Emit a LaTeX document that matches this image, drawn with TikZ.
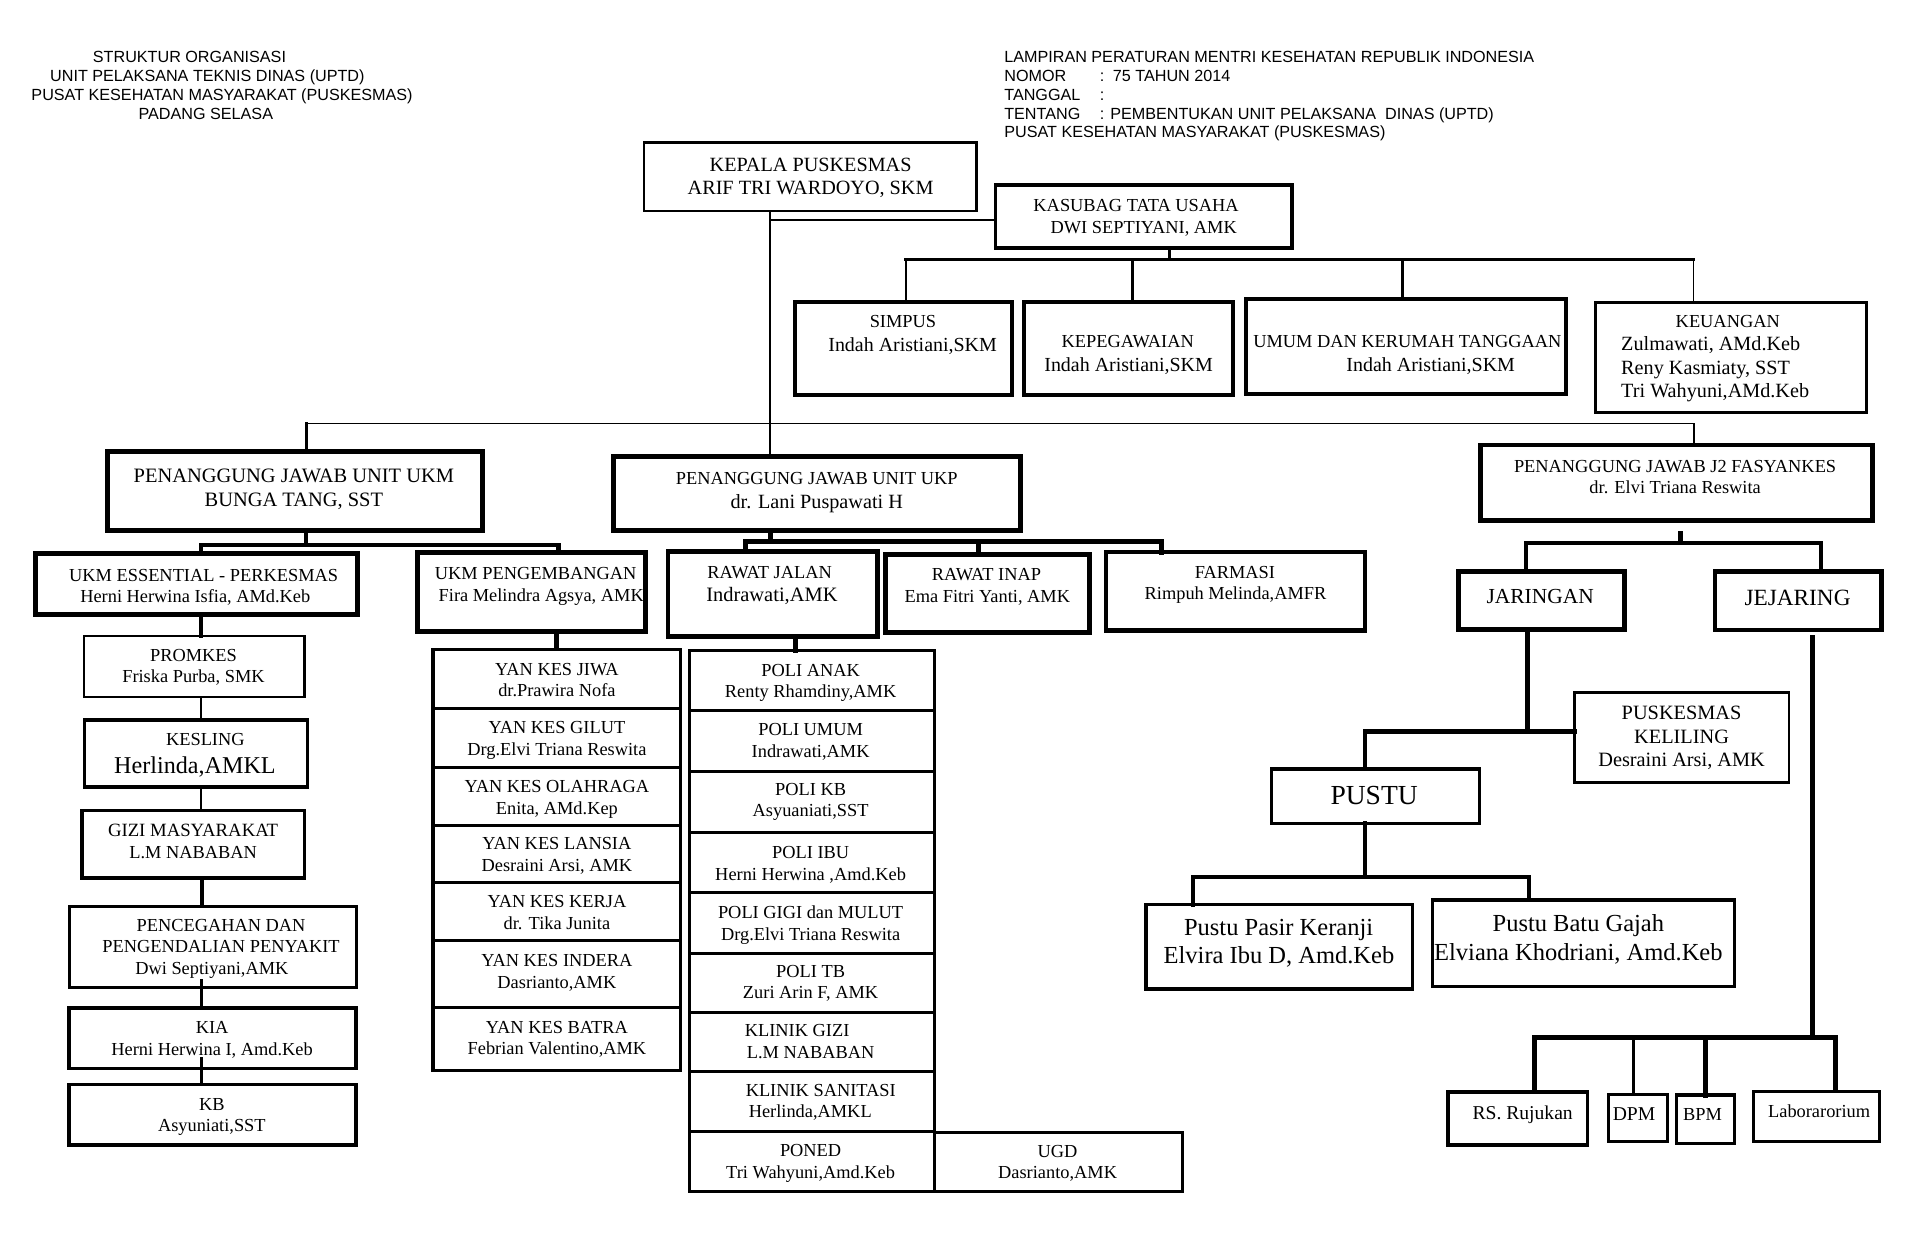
\documentclass[tikz,border=0pt]{standalone}
\usepackage{fontspec}
\setmainfont{Liberation Serif}
\newfontfamily\hdf{Liberation Sans}
\usetikzlibrary{calc}
\newcommand\BX[6]{\node[draw, line width=#6pt, inner sep=0pt, outer sep=0pt, anchor=north west, minimum width={(#4-#2)*1pt}, minimum height={(#5-#3)*1pt}] (#1) at (#2,#3) {};}
\newcommand\TX[5]{\node[anchor=base, inner sep=0pt, font=\fontsize{#4pt}{#4pt}\selectfont] (#1) at (#2,{#3+0.33*#4}) {#5};}
\newcommand\TXL[5]{\node[anchor=base west, inner sep=0pt, font=\fontsize{#4pt}{#4pt}\selectfont] (#1) at (#2,{#3+0.33*#4}) {#5};}
\newcommand\HX[4]{\node[anchor=base west, inner sep=0pt, font=\hdf\fontsize{13.2pt}{13.2pt}\selectfont] (#1) at (#2,{#3+4.7}) {#4};}
\tikzset{lw/.style={line width=#1pt}}
\begin{document}
\begin{tikzpicture}[x=1pt,y=-1pt,line cap=rect,line join=miter]
\fill[white] (0,0) rectangle (1568,1021.6);
\useasboundingbox (0,0) rectangle (1568,1021.6);
% headers
\HX{h1}{75.7}{46.3}{STRUKTUR ORGANISASI}
\HX{h2}{40.8}{62}{UNIT PELAKSANA TEKNIS DINAS (UPTD)}
\HX{h3}{25.5}{77.6}{PUSAT KESEHATAN MASYARAKAT (PUSKESMAS)}
\HX{h4}{113}{92.5}{PADANG SELASA}
\HX{h5}{820}{46.3}{LAMPIRAN PERATURAN MENTRI KESEHATAN REPUBLIK INDONESIA}
\HX{h6}{820}{62}{NOMOR}
\HX{h6b}{898}{62}{:\hspace{7pt}75 TAHUN 2014}
\HX{h7}{820}{77.6}{TANGGAL}
\HX{h7b}{898}{77.6}{:}
\HX{h8}{820}{92.5}{TENTANG}
\HX{h8b}{898}{92.5}{: PEMBENTUKAN UNIT PELAKSANA\ \ DINAS (UPTD)}
\HX{h9}{820}{108}{PUSAT KESEHATAN MASYARAKAT (PUSKESMAS)}
% boxes
\BX{kepala}{526}{116.5}{797.5}{172.3}{2}
\BX{kasubag}{813}{151}{1055}{202.3}{3}
\BX{simpus}{649}{246.5}{826.6}{322.6}{3}
\BX{kepeg}{836.5}{246.4}{1007}{322.6}{3}
\BX{umum}{1017.6}{244.2}{1279}{322}{3}
\BX{keu}{1303}{246.9}{1524}{336.7}{2.5}
\BX{ukm}{87.6}{369}{394}{433}{4}
\BX{ukp}{501}{373}{833.5}{433}{4}
\BX{jtwo}{1208.7}{363.4}{1529}{425}{4}
\BX{ess}{29}{452}{291.7}{502}{4}
\BX{peng}{340.7}{451}{527}{516}{4}
\BX{promkes}{68.6}{519.4}{248.7}{569}{2}
\BX{kesling}{69}{588}{251}{642.5}{3}
\BX{gizi}{66.7}{662}{248.7}{717}{3}
\BX{pencegahan}{56.5}{740}{291}{806.6}{2.5}
\BX{kia}{56.5}{823}{291}{872.5}{3}
\BX{kb}{56.5}{885.6}{291}{935}{3}
\BX{yan1}{353.6}{530.3}{556}{578.5}{2.5}
\BX{yan2}{353.6}{578.5}{556}{626.7}{2.5}
\BX{yan3}{353.6}{626.7}{556}{673.8}{2.5}
\BX{yan4}{353.6}{673.8}{556}{720.9}{2.5}
\BX{yan5}{353.6}{720.9}{556}{768.2}{2.5}
\BX{yan6}{353.6}{768.2}{556}{823}{2.5}
\BX{yan7}{353.6}{823}{556}{874.4}{2.5}
\BX{rj}{545.5}{450.5}{716.8}{520}{4}
\BX{ri}{723.4}{452.7}{890}{516.7}{4}
\BX{farmasi}{903}{451}{1115}{515}{3.5}
\BX{poli1}{563}{531.4}{763.5}{580.4}{2.5}
\BX{poli2}{563}{580.4}{763.5}{629.7}{2.5}
\BX{poli3}{563}{629.7}{763.5}{680}{2.5}
\BX{poli4}{563}{680}{763.5}{728.8}{2.5}
\BX{poli5}{563}{728.8}{763.5}{778.6}{2.5}
\BX{poli6}{563}{778.6}{763.5}{826.8}{2.5}
\BX{poli7}{563}{826.8}{763.5}{874.7}{2.5}
\BX{poli8}{563}{874.7}{763.5}{924.3}{2.5}
\BX{poli9}{563}{924.3}{763.5}{973.2}{2.5}
\BX{ugd}{763.5}{924.8}{965.8}{973.2}{2.5}
\BX{jaringan}{1190.8}{467}{1326.5}{514}{4}
\BX{jejaring}{1400.6}{467}{1536.3}{514.5}{4}
\BX{pusk}{1286}{565.7}{1461}{639.2}{2.2}
\BX{pustu}{1038}{628}{1208.5}{672.4}{2.5}
\BX{pasir}{936}{738.6}{1153.4}{807.4}{3}
\BX{batu}{1169.6}{735}{1416.3}{805.8}{2.5}
\BX{rs}{1182.4}{891.6}{1296.4}{935}{3}
\BX{dpm}{1313.5}{893.5}{1361.8}{932.4}{2.5}
\BX{bpm}{1369}{894.3}{1416.5}{933.8}{3}
\BX{lab}{1432.3}{891}{1534.8}{932.4}{2.5}
% texts
\TX{t1}{662}{134.3}{16.5}{KEPALA PUSKESMAS}
\TX{t2}{662}{153.4}{16.5}{ARIF TRI WARDOYO, SKM}
\TX{t3}{927.8}{167.8}{15}{KASUBAG TATA USAHA}
\TX{t4}{934}{186}{15}{DWI SEPTIYANI, AMK}
\TX{t5}{737.4}{262.7}{15}{SIMPUS}
\TX{t6}{745.3}{281.8}{16.3}{Indah Aristiani,SKM}
\TX{t7}{921}{279}{15}{KEPEGAWAIAN}
\TX{t8}{921.7}{298}{16.3}{Indah Aristiani,SKM}
\TX{t9}{1149.4}{279}{15}{UMUM DAN KERUMAH TANGGAAN}
\TX{t10}{1168.4}{298}{16.3}{Indah Aristiani,SKM}
\TX{t11}{1411}{262.7}{15}{KEUANGAN}
\TXL{t12}{1323.8}{281.2}{16.5}{Zulmawati, AMd.Keb}
\TXL{t13}{1323.8}{300.3}{16.5}{Reny Kasmiaty, SST}
\TXL{t14}{1323.8}{319.1}{16.5}{Tri Wahyuni,AMd.Keb}
\TX{t15}{240}{388.6}{16.7}{PENANGGUNG JAWAB UNIT UKM}
\TX{t16}{240}{408.3}{16.7}{BUNGA TANG, SST}
\TX{t17}{667}{390.5}{15}{PENANGGUNG JAWAB UNIT UKP}
\TX{t18}{667}{410}{16.5}{dr. Lani Puspawati H}
\TX{t19}{1368}{381}{15}{PENANGGUNG JAWAB J2 FASYANKES}
\TX{t20}{1368}{398}{15}{dr. Elvi Triana Reswita}
\TX{t21}{166.3}{469.6}{15}{UKM ESSENTIAL - PERKESMAS}
\TX{t22}{159.5}{487}{15}{Herni Herwina Isfia, AMd.Keb}
\TX{t23}{437.5}{468}{15}{UKM PENGEMBANGAN}
\TX{t24}{442}{486}{15}{Fira Melindra Agsya, AMK}
\TX{t25}{158}{535.5}{15}{PROMKES}
\TX{t26}{158}{552.6}{15}{Friska Purba, SMK}
\TX{t27}{167.7}{603.6}{15}{KESLING}
\TX{t28}{159.2}{625}{19.7}{Herlinda,AMKL}
\TX{t29}{157.7}{678}{15.3}{GIZI MASYARAKAT}
\TX{t30}{157.7}{696}{15}{L.M NABABAN}
\TX{t31}{180.5}{755.5}{15}{PENCEGAHAN DAN}
\TX{t32}{180.5}{773}{15}{PENGENDALIAN PENYAKIT}
\TX{t33}{173}{790.8}{15}{Dwi Septiyani,AMK}
\TX{t34}{173.2}{839.3}{15}{KIA}
\TX{t35}{173.2}{857}{15}{Herni Herwina I, Amd.Keb}
\TX{t36}{173}{902}{15}{KB}
\TX{t37}{173}{918.8}{15}{Asyuniati,SST}
\TX{t38}{454.8}{546.7}{15}{YAN KES JIWA}
\TX{t39}{454.8}{564}{15}{dr.Prawira Nofa}
\TX{t40}{454.8}{594}{15}{YAN KES GILUT}
\TX{t41}{454.8}{612}{15}{Drg.Elvi Triana Reswita}
\TX{t42}{454.8}{642.5}{15}{YAN KES OLAHRAGA}
\TX{t43}{454.8}{660}{15}{Enita, AMd.Kep}
\TX{t44}{454.8}{689}{15}{YAN KES LANSIA}
\TX{t45}{454.8}{707}{15}{Desraini Arsi, AMK}
\TX{t46}{454.8}{736.4}{15}{YAN KES KERJA}
\TX{t47}{454.8}{754}{15}{dr. Tika Junita}
\TX{t48}{454.8}{784.6}{15}{YAN KES INDERA}
\TX{t49}{454.8}{802.5}{15}{Dasrianto,AMK}
\TX{t50}{454.8}{839.3}{15}{YAN KES BATRA}
\TX{t51}{454.8}{856}{15}{Febrian Valentino,AMK}
\TX{t52}{628.5}{467.7}{15}{RAWAT JALAN}
\TX{t53}{630.4}{486}{16.7}{Indrawati,AMK}
\TX{t54}{805.6}{468.8}{15}{RAWAT INAP}
\TX{t55}{806.3}{486.7}{15}{Ema Fitri Yanti, AMK}
\TX{t56}{1008.5}{467.7}{15}{FARMASI}
\TX{t57}{1009}{485}{15}{Rimpuh Melinda,AMFR}
\TX{t58}{662}{547.7}{15}{POLI ANAK}
\TX{t59}{662}{565}{15}{Renty Rhamdiny,AMK}
\TX{t60}{662}{596}{15}{POLI UMUM}
\TX{t61}{662}{614}{15}{Indrawati,AMK}
\TX{t62}{662}{644.6}{15}{POLI KB}
\TX{t63}{662}{661.5}{15}{Asyuaniati,SST}
\TX{t64}{662}{696.4}{15}{POLI IBU}
\TX{t65}{662}{714}{15}{Herni Herwina ,Amd.Keb}
\TX{t66}{662}{745}{15}{POLI GIGI dan MULUT}
\TX{t67}{662}{763}{15}{Drg.Elvi Triana Reswita}
\TX{t68}{662}{793.6}{15}{POLI TB}
\TX{t69}{662}{810.4}{15}{Zuri Arin F, AMK}
\TX{t70}{651}{841.7}{15}{KLINIK GIZI}
\TX{t71}{662}{859.4}{15}{L.M NABABAN}
\TX{t72}{670.3}{890.7}{15}{KLINIK SANITASI}
\TX{t73}{661.7}{908}{15}{Herlinda,AMKL}
\TX{t74}{662}{939.7}{15}{PONED}
\TX{t75}{662}{957.4}{15}{Tri Wahyuni,Amd.Keb}
\TX{t76}{863.7}{940.5}{15}{UGD}
\TX{t77}{863.7}{957.4}{15}{Dasrianto,AMK}
\TX{t78}{1257.8}{487.3}{17.5}{JARINGAN}
\TX{t79}{1468}{488}{19}{JEJARING}
\TX{t80}{1373.3}{582}{16.6}{PUSKESMAS}
\TX{t81}{1373.3}{601.6}{16.6}{KELILING}
\TX{t82}{1373.3}{620.7}{16.6}{Desraini Arsi, AMK}
\TX{t83}{1122.2}{649.3}{22.5}{PUSTU}
\TX{t84}{1044.2}{757.6}{20}{Pustu Pasir Keranji}
\TX{t85}{1044.5}{780.5}{20}{Elvira Ibu D, Amd.Keb}
\TX{t86}{1289}{754}{20}{Pustu Batu Gajah}
\TX{t87}{1289}{777.8}{20}{Elviana Khodriani, Amd.Keb}
\TX{t88}{1243.5}{909.3}{16}{RS. Rujukan}
\TX{t89}{1334.4}{910}{16}{DPM}
\TX{t90}{1390.4}{910}{15}{BPM}
\TX{t91}{1485.6}{907.9}{15}{Laborarorium}
% connectors
\coordinate (jk) at (629,179.7);
\draw[lw=2] (kepala.south -| jk) -- (ukp.north -| jk);
\draw[lw=1.2] (jk) -- (kasubag.west |- jk);
\coordinate (sb) at (955,212);
\coordinate (sbL) at (740,212);
\coordinate (sbR) at (1383,212);
\draw[lw=2.5] (kasubag.south -| sb) -- (sb);
\draw[lw=3] (sbL) -- (sbR);
\draw[lw=2] (sbL) -- (simpus.north -| sbL);
\coordinate (sbK) at (924.5,214);
\draw[lw=2.5] (sbK) -- (kepeg.north -| sbK);
\coordinate (sbU) at (1145,214);
\draw[lw=2.5] (sbU) -- (umum.north -| sbU);
\draw[lw=1.3] (sbR) -- (keu.north -| sbR);
\coordinate (lL) at (250,346);
\coordinate (lR) at (1383.6,346);
\draw[lw=1.2] (lL) -- (lR);
\draw[lw=2.5] (lL) -- (ukm.north -| lL);
\draw[lw=1.5] (lR) -- (jtwo.north -| lR);
% UKM fork
\coordinate (uf) at (250,445);
\coordinate (ufL) at (164,445);
\coordinate (ufR) at (456,445);
\draw[lw=3.5] (ukm.south -| uf) -- (uf);
\draw[lw=3.5] (ess.north -| ufL) -- (ufL) -- (ufR) -- (peng.north -| ufR);
\coordinate (cL) at (164,0);
\coordinate (cL2) at (164.8,0);
\draw[lw=3] (ess.south -| cL) -- (promkes.north -| cL);
\draw[lw=2] (promkes.south -| cL) -- (kesling.north -| cL);
\draw[lw=2] (kesling.south -| cL) -- (gizi.north -| cL);
\draw[lw=3] (gizi.south -| cL2) -- (pencegahan.north -| cL2);
\draw[lw=2.5] ($(pencegahan.south -| cL2)+(0,-6)$) -- (kia.north -| cL2);
\draw[lw=2.5] ($(kia.south -| cL2)+(0,-8)$) -- (kb.north -| cL2);
\coordinate (cY) at (454.5,0);
\draw[lw=3.5] (peng.south -| cY) -- (yan1.north -| cY);
% UKP fork
\coordinate (kf) at (629,442);
\coordinate (kfL) at (608.5,442);
\coordinate (kfM) at (799,442);
\coordinate (kfR) at (948.7,442);
\draw[lw=4] (ukp.south -| kf) -- (kf);
\draw[lw=4] (rj.north -| kfL) -- (kfL) -- (kfR) -- (farmasi.north -| kfR);
\draw[lw=4] (kfM) -- (ri.north -| kfM);
\coordinate (cP) at (649.4,0);
\draw[lw=4] (rj.south -| cP) -- (poli1.north -| cP);
% J2 fork
\coordinate (jf) at (1372.4,443.7);
\coordinate (jfL) at (1246.5,443.7);
\coordinate (jfR) at (1487.4,443.7);
\draw[lw=3.5] ($(jtwo.south -| jf)+(0,10)$) -- (jf);
\draw[lw=3.5] (jaringan.north -| jfL) -- (jfL) -- (jfR) -- (jejaring.north -| jfR);
% Jaringan
\coordinate (jn) at (1247.4,597.5);
\coordinate (jnL) at (1114.8,597.5);
\draw[lw=3.5] (jaringan.south -| jn) -- (jn);
\draw[lw=4] (jnL) -- (pusk.west |- jnL);
\draw[lw=3.5] (jnL) -- (pustu.north -| jnL);
% Pustu fork
\coordinate (pf) at (1115,716);
\coordinate (pfL) at (974.3,716);
\coordinate (pfR) at (1248.6,716);
\draw[lw=3.5] (pustu.south -| pf) -- (pf);
\draw[lw=3.5] (pasir.north -| pfL) -- (pfL) -- (pfR) -- (batu.north -| pfR);
% Jejaring
\coordinate (jj) at (1480,847.5);
\coordinate (jjL) at (1252.9,847.5);
\coordinate (jjR) at (1499.3,847.5);
\coordinate (jjD) at (1334,847.5);
\coordinate (jjB) at (1392.5,847.5);
\draw[lw=4] ($(jejaring.south -| jj)+(0,6)$) -- (jj);
\draw[lw=4] (rs.north -| jjL) -- (jjL) -- (jjR) -- (lab.north -| jjR);
\draw[lw=3] (jjD) -- (dpm.north -| jjD);
\draw[lw=4] (jjB) -- (bpm.north -| jjB);
\end{tikzpicture}
\end{document}
